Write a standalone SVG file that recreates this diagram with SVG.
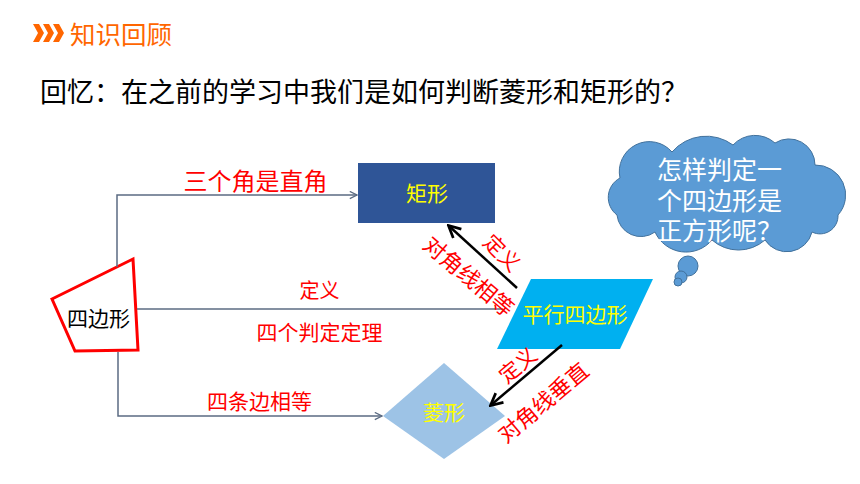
<svg xmlns="http://www.w3.org/2000/svg" width="860" height="484" viewBox="0 0 860 484">
<defs>
<style>
text{font-family:"Noto Sans CJK SC","Noto Sans",sans-serif;}
.red{fill:#FF0000;font-size:21px;text-anchor:middle;}
.yel{fill:#FFFF00;font-size:21px;text-anchor:middle;}
.conn{fill:none;stroke:#5B6B82;stroke-width:1.5;}
.blk{fill:none;stroke:#000;stroke-width:2.5;}
.cloud{fill:#5B9BD5;stroke:#41719C;stroke-width:1;}
</style>
<marker id="ag" viewBox="0 0 10 10" refX="9" refY="5" markerWidth="9" markerHeight="9" markerUnits="userSpaceOnUse" orient="auto">
<path d="M1,1 L9,5 L1,9" fill="none" stroke="#5B6B82" stroke-width="1.4"/>
</marker>
<marker id="ab" viewBox="0 0 10 10" refX="8.5" refY="5" markerWidth="15" markerHeight="15" markerUnits="userSpaceOnUse" orient="auto">
<path d="M1,1 L9,5 L1,9" fill="none" stroke="#000" stroke-width="1.8"/>
</marker>
</defs>
<rect width="860" height="484" fill="#fff"/>

<g id="title">
<polygon points="33,24 39,24 44,33 39,42 33,42 38,33" fill="#FF6600"/>
<polygon points="43,24 49,24 54,33 49,42 43,42 48,33" fill="#FF6600"/>
<polygon points="53,24 59,24 64,33 59,42 53,42 58,33" fill="#FF6600"/>
<text x="70" y="44" font-size="25.5" fill="#FF6600">知识回顾</text>
</g>
<g id="heading">
<text x="40" y="102" font-size="27" fill="#000">回忆：在之前的学习中我们是如何判断菱形和矩形的？</text>
</g>

<g id="quad">
<polygon points="52,299 133,259 138,350 75,351" fill="#fff" stroke="#FF0000" stroke-width="3" stroke-linejoin="miter"/>
<text x="98.5" y="326" font-size="21" fill="#000" text-anchor="middle">四边形</text>
</g>
<g id="rect">
<rect x="358" y="163" width="137" height="60" fill="#2F5597"/>
<text class="yel" x="427" y="201">矩形</text>
</g>
<g id="parallelogram">
<polygon points="531,279 653,279 620,349 497,349" fill="#00B0F0"/>
<text class="yel" x="575" y="322">平行四边形</text>
</g>
<g id="rhombus">
<polygon points="383,416 444,363 505,416 444,459" fill="#9DC3E6"/>
<text class="yel" x="444" y="420">菱形</text>
</g>
<g id="cloud">
<path class="cloud" d="M620,178 A30,30 0 0 1 672,152 A45,45 0 0 1 733,145 A30,30 0 0 1 775,143 A26,26 0 0 1 815,165 A30,30 0 0 1 838,215 A18,18 0 0 1 812,232 A26,26 0 0 1 765,240 A40,40 0 0 1 712,240 A34,34 0 0 1 655,232 A24,24 0 0 1 617,215 A22,22 0 0 1 620,178 Z"/>
<circle class="cloud" cx="688" cy="266" r="10"/>
<circle class="cloud" cx="681" cy="277" r="6"/>
<circle class="cloud" cx="678" cy="282" r="4"/>
<text x="657" y="179" font-size="25" fill="#fff">怎样判定一</text>
<text x="657" y="210" font-size="25" fill="#fff">个四边形是</text>
<text x="657" y="240" font-size="25" fill="#fff">正方形呢？</text>
</g>

<g id="connectors">
<path class="conn" d="M117,267 V195 H357" marker-end="url(#ag)"/>
<path class="conn" d="M137,309 H503"/>
<path class="conn" d="M118,352 V416 H382" marker-end="url(#ag)"/>
<line class="blk" x1="517" y1="288" x2="449" y2="226" marker-end="url(#ab)"/>
<line class="blk" x1="562" y1="345" x2="491" y2="405" marker-end="url(#ab)"/>
</g>

<g id="labels">
<text class="red" x="255.5" y="190" style="font-size:24px">三个角是直角</text>
<text class="red" x="319.5" y="298" style="font-size:20px">定义</text>
<text class="red" x="319.5" y="340">四个判定定理</text>
<text class="red" x="259.5" y="409">四条边相等</text>
<text class="red" x="503" y="252" dominant-baseline="central" transform="rotate(45 503 252)">定义</text>
<text class="red" x="470" y="275" dominant-baseline="central" style="font-size:22px" transform="rotate(40 470 275)">对角线相等</text>
<text class="red" x="517" y="364" dominant-baseline="central" transform="rotate(-40 517 364)">定义</text>
<text class="red" x="542" y="401" dominant-baseline="central" style="font-size:22px" transform="rotate(-40 542 401)">对角线垂直</text>
</g>
</svg>
